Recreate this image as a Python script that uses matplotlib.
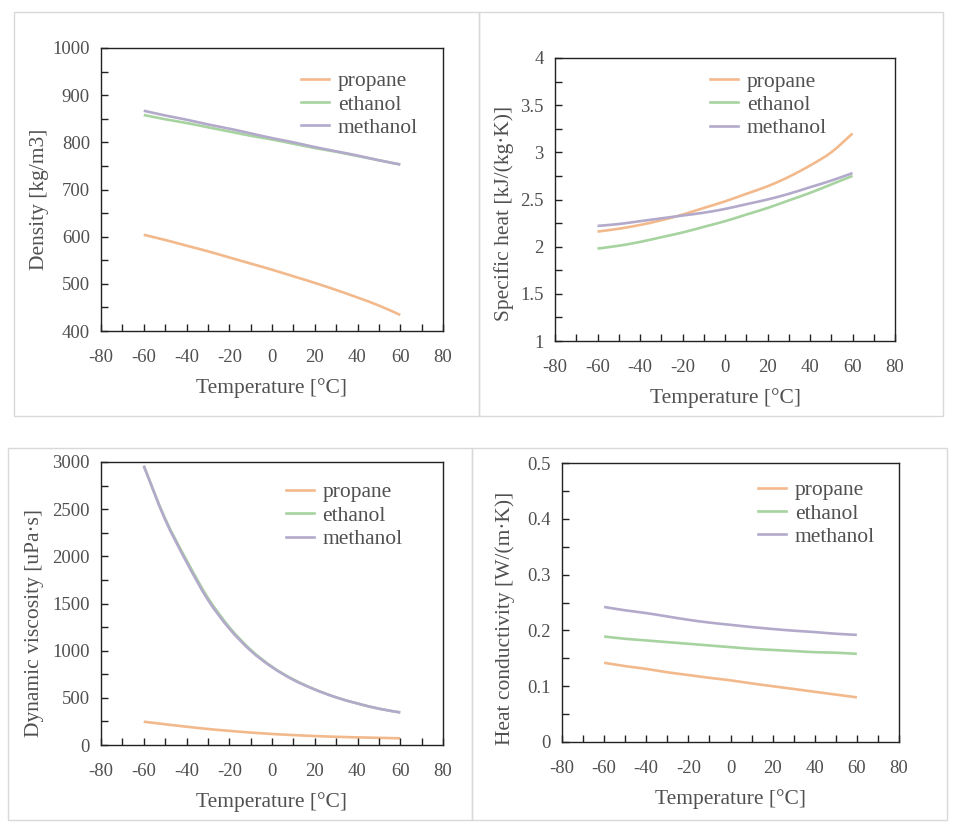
import numpy as np
import matplotlib
matplotlib.use("Agg")
import matplotlib.pyplot as plt
from matplotlib.patches import Rectangle, PathPatch
from matplotlib.path import Path
from matplotlib.ticker import MultipleLocator

plt.rcParams['font.family'] = ['Liberation Serif', 'DejaVu Serif']
plt.rcParams['axes.unicode_minus'] = False

# temperature [°C]
temp = [-60, -50, -40, -30, -20, -10, 0, 10, 20, 30, 40, 50, 60]

# density [kg/m3]
dens_propane = [604, 593, 581, 569, 556, 543, 530, 516, 502, 487, 471, 454, 434]
dens_ethanol = [858, 849, 841, 832, 823, 814, 806, 797, 788, 780, 771, 762, 753]
dens_methanol = [867, 857, 848, 838, 829, 819, 809, 800, 790, 781, 772, 762, 753]

# specific heat [kJ/(kg.K)]
cp_propane = [2.16, 2.19, 2.23, 2.28, 2.34, 2.41, 2.48, 2.56, 2.64, 2.74, 2.86, 3.00, 3.20]
cp_ethanol = [1.98, 2.01, 2.05, 2.10, 2.15, 2.21, 2.27, 2.34, 2.41, 2.49, 2.57, 2.66, 2.75]
cp_methanol = [2.22, 2.24, 2.27, 2.30, 2.33, 2.36, 2.40, 2.45, 2.50, 2.56, 2.63, 2.70, 2.78]

# dynamic viscosity [uPa.s]
mu_propane = [247, 220, 194, 170, 150, 132, 117, 105, 95, 87, 81, 76, 71]
mu_ethanol = [2960, 2400, 1960, 1560, 1250, 1010, 830, 695, 590, 505, 440, 385, 345]
mu_methanol = [2960, 2390, 1940, 1540, 1235, 1000, 825, 690, 588, 505, 440, 385, 345]

# heat conductivity [W/(m.K)]
k_propane = [0.142, 0.136, 0.131, 0.125, 0.120, 0.115, 0.1105, 0.105, 0.100, 0.095, 0.090, 0.085, 0.080]
k_ethanol = [0.189, 0.185, 0.182, 0.179, 0.176, 0.173, 0.170, 0.167, 0.165, 0.163, 0.161, 0.160, 0.158]
k_methanol = [0.242, 0.236, 0.231, 0.225, 0.219, 0.214, 0.210, 0.206, 0.2025, 0.1995, 0.197, 0.194, 0.192]

names = ['propane', 'ethanol', 'methanol']
colors = ['#F2B98C', '#A6D39F', '#B3AACB']
txt = '#505050'

W, H = 958, 826
fig = plt.figure(figsize=(W / 100, H / 100), dpi=100)


def smooth_line(ax, x, y, color, label):
    # Excel-like smoothed line: cubic Bezier through the data points
    x = np.asarray(x, float)
    y = np.asarray(y, float)
    verts = [(x[0], y[0])]
    codes = [Path.MOVETO]
    n = len(x)
    for i in range(n - 1):
        x0, y0 = (x[i - 1], y[i - 1]) if i > 0 else (x[i], y[i])
        x3, y3 = (x[i + 2], y[i + 2]) if i + 2 < n else (x[i + 1], y[i + 1])
        c1 = (x[i] + (x[i + 1] - x0) / 6, y[i] + (y[i + 1] - y0) / 6)
        c2 = (x[i + 1] - (x3 - x[i]) / 6, y[i + 1] - (y3 - y[i]) / 6)
        verts += [c1, c2, (x[i + 1], y[i + 1])]
        codes += [Path.CURVE4] * 3
    ax.add_patch(PathPatch(Path(verts, codes), facecolor='none', edgecolor=color,
                           linewidth=1.9, capstyle='butt'))
    ax.plot([], [], color=color, linewidth=1.9, label=label)


# light grey frames around each chart (pixels: left, right, top, bottom)
for l, r, t, b in [(14, 479, 12, 416), (479, 943, 12, 416), (8, 472, 448, 820), (472, 947, 448, 820)]:
    fig.patches.append(Rectangle((l / W, 1 - b / H), (r - l) / W, (b - t) / H,
                                 transform=fig.transFigure, fill=False,
                                 edgecolor='#d9d9d9', linewidth=1.0))

panels = [
    # axes box px, data, ylim, ymajor, yminor, ylabel, legend anchor, ylabel coords, tick format
    ((101, 443, 48, 331), (dens_propane, dens_ethanol, dens_methanol), (400, 1000), 100, 50,
     'Density [kg/m3]', (0.585, 0.918), (-0.18, 0.466), '{:.0f}'),
    ((555, 895, 58, 341), (cp_propane, cp_ethanol, cp_methanol), (1, 4), 0.5, 0.25,
     'Specific heat [kJ/(kg·K)]', (0.456, 0.952), (-0.15, 0.452), '{:g}'),
    ((101, 443, 462, 745), (mu_propane, mu_ethanol, mu_methanol), (0, 3000), 500, 250,
     'Dynamic viscosity [uPa·s]', (0.541, 0.928), (-0.195, 0.431), '{:.0f}'),
    ((562, 899, 463, 742), (k_propane, k_ethanol, k_methanol), (0, 0.5), 0.1, 0.05,
     'Heat conductivity [W/(m·K)]', (0.582, 0.938), (-0.169, 0.444), '{:g}'),
]

for (l, r, t, b), series, ylim, ymaj, ymin, ylabel, leg_xy, ylab_xy, fmt in panels:
    ax = fig.add_axes([l / W, 1 - b / H, (r - l) / W, (b - t) / H])
    for vals, name, c in zip(series, names, colors):
        smooth_line(ax, temp, vals, c, name)
    ax.set_xlim(-80, 80)
    ax.set_ylim(*ylim)
    ax.xaxis.set_major_locator(MultipleLocator(20))
    ax.xaxis.set_minor_locator(MultipleLocator(10))
    yt = np.arange(ylim[0], ylim[1] + ymaj / 2, ymaj)
    ax.set_yticks(yt)
    ax.set_yticklabels([fmt.format(v) for v in yt])
    ax.yaxis.set_minor_locator(MultipleLocator(ymin))
    ax.tick_params(which='both', direction='in', length=5, width=1.0, color='#222222',
                   top=False, right=False, labelsize=13.5, labelcolor=txt)
    ax.tick_params(axis='x', which='major', pad=13)
    ax.tick_params(axis='y', which='major', pad=8)
    for s in ax.spines.values():
        s.set_color('#222222')
        s.set_linewidth(1.0)
    ax.set_xlabel('Temperature [°C]', fontsize=15.5, color=txt)
    ax.xaxis.label.set_va('center')
    ax.xaxis.set_label_coords(0.5, -57 / (b - t))
    ax.set_ylabel(ylabel, fontsize=15.5, color=txt)
    ax.yaxis.label.set_va('center')
    ax.yaxis.set_label_coords(*ylab_xy)
    leg = ax.legend(loc='upper left', bbox_to_anchor=leg_xy, frameon=False, fontsize=15.5,
                    handlelength=1.3, handletextpad=0.4, labelspacing=0.15, borderpad=0,
                    borderaxespad=0)
    for tx in leg.get_texts():
        tx.set_color(txt)

fig.savefig('out.png', dpi=100)
